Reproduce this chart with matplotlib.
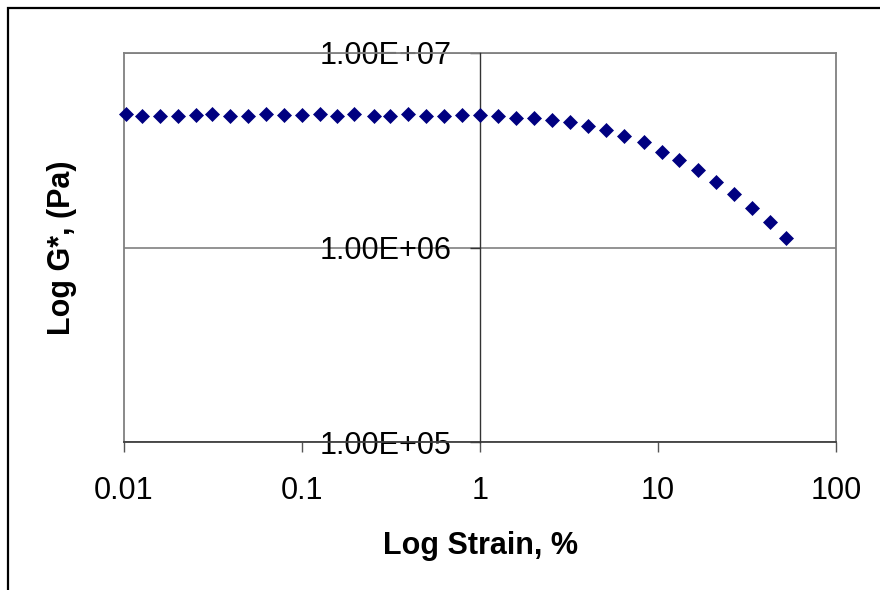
import matplotlib
matplotlib.use("Agg")
import matplotlib.pyplot as plt
import matplotlib.patches as mpatches
import numpy as np

# data (strain %, G* in Pa)
strain = [0.0103, 0.0126, 0.0159, 0.0200, 0.0253, 0.0312, 0.0394, 0.0495, 0.0625, 0.0789,
          0.0996, 0.126, 0.158, 0.196, 0.254, 0.312, 0.394, 0.497, 0.625, 0.789,
          0.996, 1.26, 1.59, 2.00, 2.53, 3.20, 4.03, 5.09, 6.42, 8.31,
          10.5, 13.2, 16.7, 21.1, 26.6, 33.6, 42.4, 52.2]
g_star = [4.86e6, 4.74e6, 4.74e6, 4.74e6, 4.78e6, 4.87e6, 4.76e6, 4.76e6, 4.87e6, 4.78e6,
          4.78e6, 4.87e6, 4.74e6, 4.86e6, 4.76e6, 4.76e6, 4.87e6, 4.76e6, 4.76e6, 4.78e6,
          4.78e6, 4.76e6, 4.65e6, 4.65e6, 4.54e6, 4.44e6, 4.23e6, 4.03e6, 3.76e6, 3.50e6,
          3.10e6, 2.83e6, 2.51e6, 2.18e6, 1.89e6, 1.60e6, 1.36e6, 1.12e6]

x_ticks = [0.01, 0.1, 1, 10, 100]
x_tick_labels = ['0.01', '0.1', '1', '10', '100']
y_ticks = [1e5, 1e6, 1e7]
y_tick_labels = ['1.00E+05', '1.00E+06', '1.00E+07']

GRAY = '#808080'
NAVY = '#000080'
FS = 22

plt.rcParams['font.family'] = ['Liberation Sans', 'DejaVu Sans']

fig = plt.figure(figsize=(8.8, 5.9), dpi=100)
ax = fig.add_axes([124 / 880, 1 - 442 / 590, 712 / 880, 389 / 590])

ax.set_xscale('log')
ax.set_yscale('log')
ax.set_xlim(0.01, 100)
ax.set_ylim(1e5, 1e7)

ax.plot(strain, g_star, linestyle='none', marker='D', markersize=7.4,
        markerfacecolor=NAVY, markeredgecolor=NAVY, markeredgewidth=0.5,
        zorder=4, clip_on=False)

# y axis crosses at x = 1 (excel style)
ax.spines['left'].set_position(('data', 1))
ax.spines['left'].set_color('#333333')
ax.spines['left'].set_linewidth(1.0)
ax.spines['left'].set_zorder(3)
for s in ['top', 'right']:
    ax.spines[s].set_color(GRAY)
    ax.spines[s].set_linewidth(1.3)
ax.spines['bottom'].set_color('#404040')
ax.spines['bottom'].set_linewidth(1.3)
# left border of plot area
ax.axvline(0.01, color=GRAY, linewidth=1.3, clip_on=False, zorder=2)

ax.set_xticks(x_ticks, x_tick_labels)
ax.set_yticks(y_ticks, y_tick_labels)
ax.minorticks_off()
ax.tick_params(axis='x', direction='out', length=7.5, width=1, color='#555555',
               labelsize=FS, pad=17)
ax.tick_params(axis='y', direction='out', length=7.5, width=1, color='#333333',
               labelsize=FS, pad=13)

ax.yaxis.grid(True, color=GRAY, linewidth=1.2)
ax.set_axisbelow(True)

ax.set_xlabel('Log Strain, %', fontsize=FS, fontweight='bold')
ax.xaxis.set_label_coords(0.5, -0.228)
ax.set_ylabel('Log G*, (Pa)', fontsize=FS, fontweight='bold')
ax.yaxis.set_label_coords(-0.066, 0.5)

# outer chart frame (cropped at right and bottom)
frame = mpatches.Rectangle((8 / 880, -0.5), 1.5, 1.5 - 8 / 590, transform=fig.transFigure,
                           fill=False, edgecolor='black', linewidth=1.6, clip_on=False)
fig.add_artist(frame)

fig.savefig('out.png', dpi=100)
